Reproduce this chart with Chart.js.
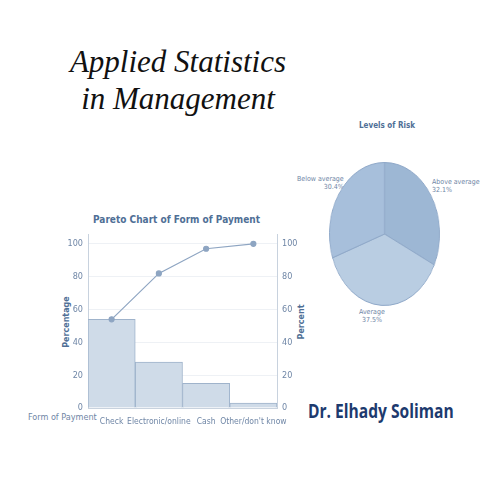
<!DOCTYPE html>
<html><head><meta charset="utf-8">
<script src="https://cdn.jsdelivr.net/npm/chart.js@4"></script>
<style>
body{margin:0;background:#fff;width:495px;height:495px;position:relative;overflow:hidden;font-family:"DejaVu Sans Condensed",sans-serif}
.t{position:absolute;white-space:nowrap}
</style></head><body>
<div class="t" style="left:0;width:356px;top:43px;text-align:center;font:italic 31px 'Liberation Serif';line-height:37px;color:#111">Applied Statistics<br>in Management</div>
<div class="t" style="left:93px;top:214px;font:bold 10px 'DejaVu Sans Condensed',sans-serif;color:#4f6f96">Pareto Chart of Form of Payment</div>
<div class="t" style="left:28px;top:412px;font:9px 'DejaVu Sans Condensed',sans-serif;color:#6f86a6">Form of Payment</div>
<div class="t" style="left:0;top:0;font:bold 8px 'DejaVu Sans',sans-serif;color:#4f6f96;transform:translate(66px,322px) translate(-50%,-50%) rotate(-90deg)">Percentage</div>
<div class="t" style="left:0;top:0;font:bold 8px 'DejaVu Sans',sans-serif;color:#4f6f96;transform:translate(301px,322px) translate(-50%,-50%) rotate(-90deg)">Percent</div>
<div class="t" style="left:359px;top:121px;font:bold 8px 'DejaVu Sans Condensed',sans-serif;color:#4f6f96">Levels of Risk</div>
<div class="t" style="left:297px;top:175px;font:7px 'DejaVu Sans Condensed',sans-serif;color:#6f86a6;text-align:right;line-height:8px">Below average<br>30.4%</div>
<div class="t" style="left:432px;top:178px;font:7px 'DejaVu Sans Condensed',sans-serif;color:#6f86a6;line-height:8px">Above average<br>32.1%</div>
<div class="t" style="left:359px;top:308px;font:7px 'DejaVu Sans Condensed',sans-serif;color:#6f86a6;text-align:center;line-height:8px">Average<br>37.5%</div>
<div class="t" style="left:308px;top:398px;font:bold 19px 'Open Sans',sans-serif;color:#1d3a6e;transform:scaleX(0.82);transform-origin:left">Dr. Elhady Soliman</div>
<div style="position:absolute;left:20px;top:205px;width:290px;height:225px"><canvas id="c1"></canvas></div>
<canvas id="c2" width="144" height="144" style="position:absolute;left:329px;top:162px;width:111px;height:144px"></canvas>
<script>
const categories=["Check","Electronic/online","Cash","Other/don't know"];
const percentages=[54,28,15,3];
const cumulative=[54,82,97,100];
const tickValues=[0,20,40,60,80,100];
const riskLabels=["Above average","Average","Below average"];
const riskValues=[32.1,37.5,30.4];
const tc='#6f86a6',tf={family:"'DejaVu Sans Condensed',sans-serif",size:9};
const setTicks=a=>{a.ticks=tickValues.map(v=>({value:v}))};
new Chart(document.getElementById('c1'),{
 data:{labels:categories,datasets:[
  {type:'line',data:cumulative,borderColor:'#8ea5c2',backgroundColor:'#8ea5c2',borderWidth:1.2,pointRadius:2.5,yAxisID:'y'},
  {type:'bar',data:percentages,backgroundColor:'#cfdbe8',borderColor:'#9fb3cb',borderWidth:1,barPercentage:1,categoryPercentage:1,yAxisID:'y'}]},
 options:{responsive:true,maintainAspectRatio:false,animation:false,
  layout:{padding:{top:29,left:0,right:0,bottom:0}},
  plugins:{legend:{display:false},tooltip:{enabled:false}},
  scales:{
   x:{grid:{display:false},border:{color:'#c8d2de'},ticks:{color:tc,font:{family:tf.family,size:8.5},maxRotation:0,autoSkip:false,padding:1},afterFit:a=>{a.height=22}},
   y:{position:'left',min:0,max:106,afterBuildTicks:setTicks,ticks:{color:tc,font:tf,padding:5},grid:{color:'#eef1f5',drawTicks:false},border:{color:'#c8d2de'},afterFit:a=>{a.width=68}},
   y2:{position:'right',min:0,max:106,afterBuildTicks:setTicks,ticks:{color:tc,font:tf,padding:5},grid:{display:false,drawTicks:false},border:{color:'#c8d2de'},afterFit:a=>{a.width=33}}
  }}});
new Chart(document.getElementById('c2'),{type:'pie',
 data:{labels:riskLabels,datasets:[{data:riskValues,backgroundColor:['#9db7d4','#b9cde2','#a7bfdb'],borderColor:'#8fa8c8',borderWidth:1}]},
 options:{responsive:false,animation:false,plugins:{legend:{display:false},tooltip:{enabled:false}}}});
</script></body></html>
